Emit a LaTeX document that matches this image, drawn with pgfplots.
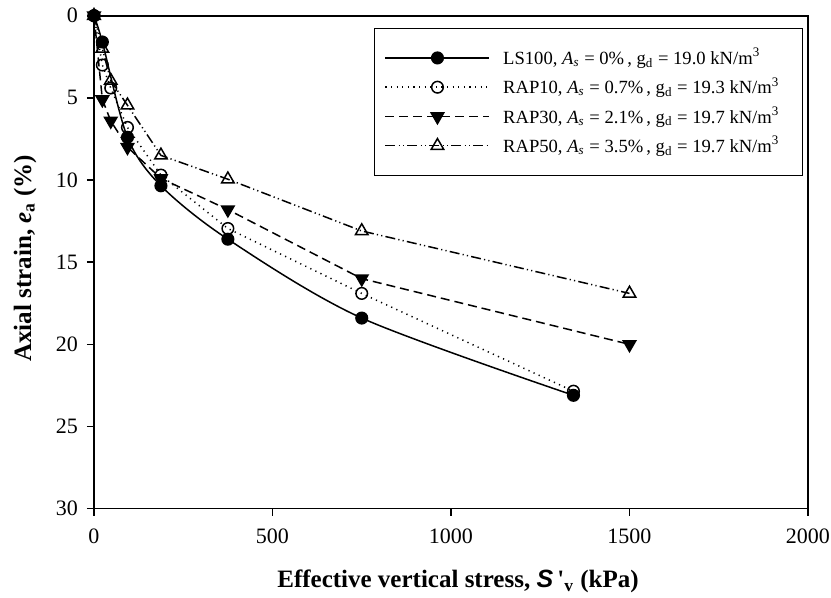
\documentclass[border=0pt]{standalone}
\usepackage{fontspec}
\setmainfont{Liberation Serif}
\setsansfont{Liberation Sans}
\usepackage{pgfplots}
\pgfplotsset{compat=1.18}
\begin{document}
\begin{tikzpicture}
\begin{axis}[
  scale only axis=true,
  width=357pt, height=246.5pt,
  xmin=0, xmax=2000, ymin=0, ymax=30,
  y dir=reverse,
  xtick={0,500,1000,1500,2000},
  ytick={0,5,10,15,20,25,30},
  tick pos=left,
  tick align=outside,
  major tick length=3.5pt,
  axis line style={line width=0.8pt},
  every tick/.style={line width=0.8pt, black},
  /pgf/number format/assume math mode=true,
  /pgf/number format/1000 sep={},
  tick label style={font=\fontsize{11}{13}\selectfont},
  xticklabel style={yshift=-3pt},
  yticklabel style={xshift=-1pt},
  xlabel={\textbf{Effective vertical stress, \textsf{\textit{S}}\,\textquotesingle\textsubscript{v} (kPa)}},
  ylabel={\textbf{Axial strain, \textit{e}\textsubscript{a} (\%)}},
  label style={font=\fontsize{12.5}{14}\selectfont},
  xlabel style={at={(axis description cs:0.5,0)}, anchor=center, yshift=-36.5pt, xshift=3.5pt},
  ylabel style={at={(axis description cs:0,0.5)}, anchor=center, yshift=34.5pt, xshift=2pt},
  legend style={draw=black, line width=0.6pt, at={(axis cs:2000,0)}, anchor=north east,
    xshift=-2.5pt, yshift=-6pt, inner xsep=5pt, inner ysep=8pt, row sep=1pt,
    font=\fontsize{9.3}{11.5}\selectfont, nodes={inner xsep=6.5pt}},
  legend cell align=left,
  legend image code/.code={\draw[mark repeat=2,mark phase=2] plot coordinates {(0pt,0pt) (26pt,0pt) (52pt,0pt)};},
]
\coordinate (BL) at (axis cs:0,30);
\coordinate (TR) at (axis cs:2000,0);
\addplot[black, line width=0.75pt, smooth, tension=0.5, mark=*, mark size=2.9pt, mark options={solid, fill=black}]
  coordinates {(0,0) (23.4,1.6) (93.75,7.4) (187.5,10.35) (375,13.6) (750,18.4) (1343,23.1)};
\addlegendentry{LS100, \textit{A}\textsubscript{\textit{s}} = 0\%\,, g\textsubscript{d} = 19.0 kN/m\textsuperscript{3}}
\addplot[black, line width=0.75pt, dash pattern=on 0.6pt off 2.2pt, mark=o, mark size=2.9pt, mark options={solid, fill=white}]
  coordinates {(0,0) (23.4,3.0) (46.9,4.4) (93.75,6.8) (187.5,9.7) (375,12.95) (750,16.9) (1343,22.85)};
\addlegendentry{RAP10, \textit{A}\textsubscript{\textit{s}} = 0.7\%\,, g\textsubscript{d} = 19.3 kN/m\textsuperscript{3}}
\addplot[black, line width=0.75pt, dash pattern=on 4.5pt off 2.5pt, mark=triangle*, mark size=3.6pt, mark options={solid, fill=black, rotate=180}]
  coordinates {(0,0) (23.4,5.1) (46.9,6.4) (93.75,8.0) (187.5,9.9) (375,11.8) (750,16.0) (1500,20.0)};
\addlegendentry{RAP30, \textit{A}\textsubscript{\textit{s}} = 2.1\%\,, g\textsubscript{d} = 19.7 kN/m\textsuperscript{3}}
\addplot[black, line width=0.75pt, dash pattern=on 5pt off 1.6pt on 0.6pt off 1.6pt on 0.6pt off 1.6pt, mark=triangle, mark size=3.6pt, mark options={solid, fill=white}]
  coordinates {(0,0) (23.4,2.0) (46.9,3.95) (93.75,5.45) (187.5,8.5) (375,9.95) (750,13.1) (1500,16.9)};
\addlegendentry{RAP50, \textit{A}\textsubscript{\textit{s}} = 3.5\%\,, g\textsubscript{d} = 19.7 kN/m\textsuperscript{3}}
\end{axis}
\pgfresetboundingbox
\path ([shift={(-47pt,-44.5pt)}]BL) rectangle ([shift={(11.5pt,7.85pt)}]TR);
\end{tikzpicture}
\end{document}
